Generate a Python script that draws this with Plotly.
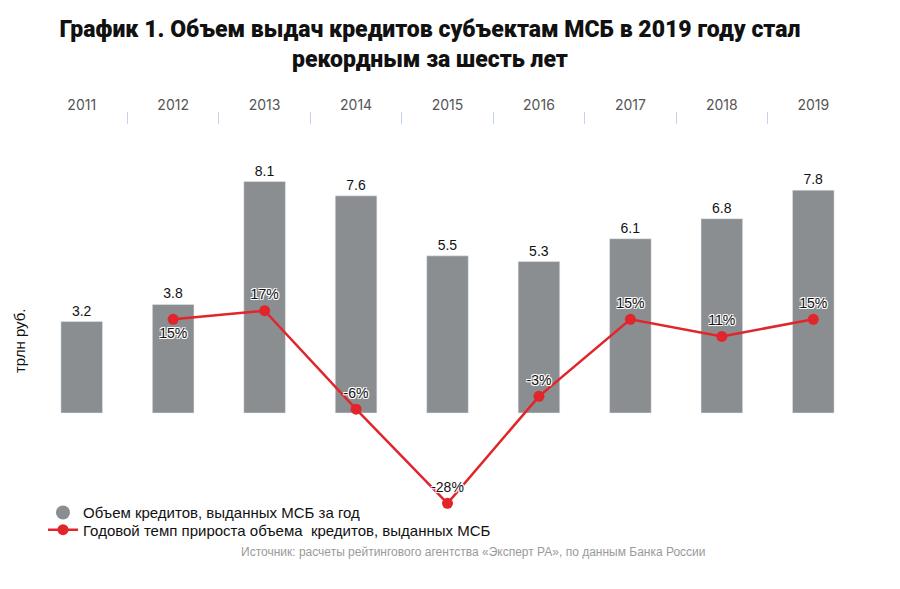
import plotly.graph_objects as go

years = ["2011", "2012", "2013", "2014", "2015", "2016", "2017", "2018", "2019"]
volume = [3.2, 3.8, 8.1, 7.6, 5.5, 5.3, 6.1, 6.8, 7.8]
growth_years = ["2012", "2013", "2014", "2015", "2016", "2017", "2018", "2019"]
growth = [15, 17, -6, -28, -3, 15, 11, 15]
growth_pos = ["bottom center", "top center", "top center", "top center",
              "top center", "top center", "top center", "top center"]

BAR = "#8a8e91"
RED = "#e0262b"
FONT = "Liberation Sans, Arial, sans-serif"

fig = go.Figure()
fig.add_trace(go.Bar(
    x=years, y=volume, marker_color=BAR, width=0.455,
    text=[f"{v:.1f}" for v in volume], textposition="outside",
    textfont=dict(size=14, color="#111", family=FONT),
    cliponaxis=False, showlegend=False, hoverinfo="x+y",
))
# legend-only marker for bars (round symbol as in reference)
fig.add_trace(go.Scatter(
    x=[None], y=[None], mode="markers",
    marker=dict(symbol="circle", size=14, color=BAR),
    name="Объем кредитов, выданных МСБ за год", legend="legend",
))
fig.add_trace(go.Scatter(
    x=growth_years, y=growth, yaxis="y2", mode="lines+markers+text",
    line=dict(color=RED, width=2.5),
    marker=dict(color=RED, size=11),
    text=[f"{g}%" for g in growth], textposition=growth_pos,
    textfont=dict(size=14, color="#111", family=FONT,
                  shadow="-1px -1px 0 #fff, 1px -1px 0 #fff, -1px 1px 0 #fff, 1px 1px 0 #fff, 0 0 2px #fff"),
    cliponaxis=False,
    name="Годовой темп прироста объема  кредитов, выданных МСБ", legend="legend2",
))

legend_common = dict(
    xref="paper", yref="paper", x=0.0085, yanchor="middle",
    font=dict(size=15, color="#111", family=FONT),
    bgcolor="rgba(0,0,0,0)", itemwidth=30,
)

fig.update_layout(
    width=892, height=581,
    margin=dict(l=28, r=41, t=104, b=49, autoexpand=False),
    paper_bgcolor="white", plot_bgcolor="white",
    font=dict(family=FONT, color="#222"),
    title=dict(
        text="График 1. Объем выдач кредитов субъектам МСБ в 2019 году стал<br>рекордным за шесть лет",
        x=0.473, xanchor="center", y=0.95, yanchor="top",
        font=dict(family="Roboto, sans-serif", size=23, color="#111", weight=900),
    ),
    xaxis=dict(
        type="category", side="top", range=[-0.5, 8.5],
        tickson="boundaries", ticks="inside", ticklen=12, tickwidth=1.2,
        tickcolor="#c5d3ea", showline=False, showgrid=False, zeroline=False,
        tickfont=dict(family="Inter, sans-serif", size=14, color="#555"),
        ticklabelstandoff=-2, automargin=False,
    ),
    yaxis=dict(range=[-4.445, 10.535], visible=False, showgrid=False, zeroline=False),
    yaxis2=dict(range=[-36.57, 63.43], overlaying="y", visible=False,
                showgrid=False, zeroline=False),
    legend=dict(y=0.0638, **legend_common),
    legend2=dict(y=0.0234, **legend_common),
    annotations=[
        dict(text="трлн руб.", xref="paper", yref="paper",
             x=-0.0194, y=0.465, xanchor="center", yanchor="middle",
             textangle=-90, showarrow=False,
             font=dict(size=15, color="#111", family=FONT)),
        dict(text="Источник: расчеты рейтингового агентства «Эксперт РА», по данным Банка России",
             xref="paper", yref="paper", x=0.532, y=-0.028, xanchor="center",
             yanchor="middle", showarrow=False,
             font=dict(size=12, color="#9a9a9a", family=FONT)),
    ],
)

fig.write_html("out.html")
